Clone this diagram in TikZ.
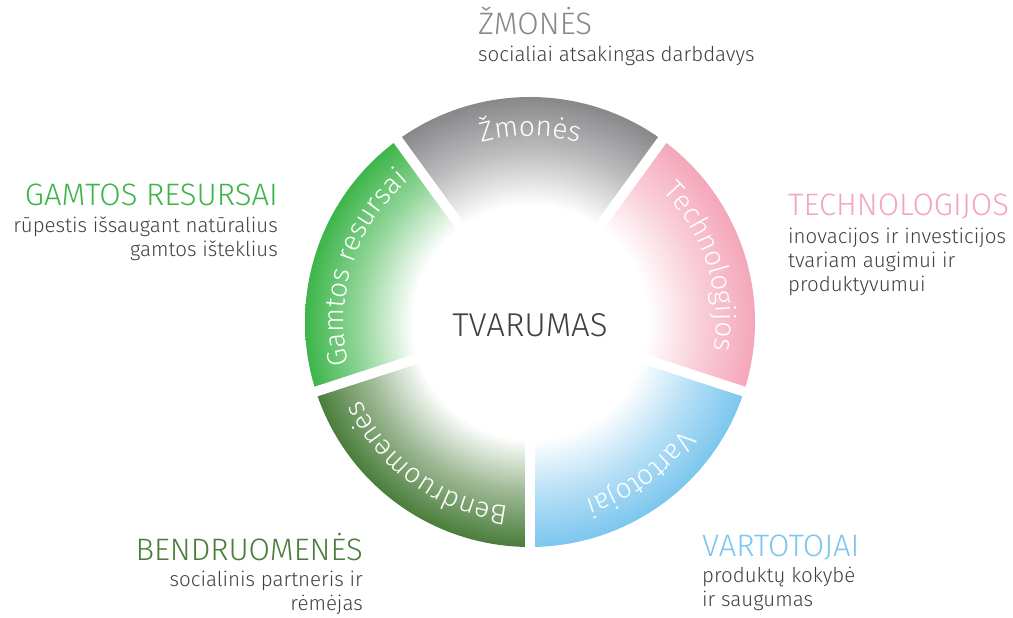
\documentclass[tikz,border=0pt]{standalone}
\usepackage{fontspec}
\setmainfont{Fira Sans Light}
\usetikzlibrary{decorations.text}
\definecolor{czm}{HTML}{88888B}
\definecolor{cte}{HTML}{F4A6BA}
\definecolor{cva}{HTML}{7CC6EE}
\definecolor{cbe}{HTML}{4A7D3B}
\definecolor{cga}{HTML}{3DB54A}
\definecolor{ink}{HTML}{404042}
\pgfdeclareradialshading{shzm}{\pgfpoint{0bp}{0bp}}{color(0bp)=(white); color(13bp)=(white); color(19bp)=(czm!55); color(25bp)=(czm); color(50bp)=(czm)}
\pgfdeclareradialshading{shte}{\pgfpoint{0bp}{0bp}}{color(0bp)=(white); color(13bp)=(white); color(19bp)=(cte!55); color(25bp)=(cte); color(50bp)=(cte)}
\pgfdeclareradialshading{shva}{\pgfpoint{0bp}{0bp}}{color(0bp)=(white); color(13bp)=(white); color(19bp)=(cva!55); color(25bp)=(cva); color(50bp)=(cva)}
\pgfdeclareradialshading{shbe}{\pgfpoint{0bp}{0bp}}{color(0bp)=(white); color(13bp)=(white); color(19bp)=(cbe!55); color(25bp)=(cbe); color(50bp)=(cbe)}
\pgfdeclareradialshading{shga}{\pgfpoint{0bp}{0bp}}{color(0bp)=(white); color(13bp)=(white); color(19bp)=(cga!55); color(25bp)=(cga); color(50bp)=(cga)}
\newcommand\arcfont{\fontsize{28}{28}\selectfont\color{white}}
\newcommand\ttlfont{\fontsize{31}{24}\selectfont}

\begin{document}
\begin{tikzpicture}[x=1pt,y=1pt,
  lbl/.style={inner sep=0pt, text=ink, font=\fontsize{20.5}{24}\selectfont}]
\useasboundingbox (0,0) rectangle (1013,618);
\begin{scope}[shift={(530,296)}]
\foreach \m/\s in {90/shzm,18/shte,-54/shva,-126/shbe,162/shga}{
  \begin{scope}
    \clip (0,0) -- (\m+36:225) arc[start angle=\m+36, end angle=\m-36, radius=225] -- cycle;
    \shade[shading=\s] (-225,-225) rectangle (225,225);
  \end{scope}
}
\foreach \a in {54,126,198,270,342}
  \draw[white, line width=10pt] (0,0) -- (\a:240);
\path[decorate, decoration={text along path, text align=center, text={|\arcfont|Žmonės}}] (126:186) arc[start angle=126, end angle=54, radius=186];
\path[decorate, decoration={text along path, text align=center, text={|\arcfont|Technologijos}}] (54:186) arc[start angle=54, end angle=-18, radius=186];
\path[decorate, decoration={text along path, text align=center, text={|\arcfont|Vartotojai}}] (-18:186) arc[start angle=-18, end angle=-90, radius=186];
\path[decorate, decoration={text along path, text align=center, text={|\arcfont|Bendruomenės}}] (-90:186) arc[start angle=-90, end angle=-162, radius=186];
\path[decorate, decoration={text along path, text align=center, text={|\arcfont|Gamtos resursai}}] (198:186) arc[start angle=198, end angle=126, radius=186];
\end{scope}
\node[font=\fontsize{33}{33}\selectfont, text=ink] (tvarumas) at (530,293) {TVARUMAS};
\node[lbl, align=left, anchor=base west] (zmones) at (478,556) {\textcolor{czm}{\ttlfont ŽMONĖS}\\[3pt]socialiai atsakingas darbdavys};
\node[lbl, align=right, anchor=base east] (gamtos) at (278,361) {\textcolor{cga}{\ttlfont GAMTOS RESURSAI}\\[3pt]rūpestis išsaugant natūralius\\gamtos išteklius};
\node[lbl, align=left, anchor=base west] (technologijos) at (788,326) {\textcolor{cte}{\ttlfont TECHNOLOGIJOS}\\[4pt]inovacijos ir investicijos\\tvariam augimui ir\\produktyvumui};
\node[lbl, align=right, anchor=base east] (bendruomenes) at (363,7) {\textcolor{cbe}{\ttlfont BENDRUOMENĖS}\\[2pt]socialinis partneris ir\\rėmėjas};
\node[lbl, align=left, anchor=base west] (vartotojai) at (702,11) {\textcolor{cva}{\ttlfont VARTOTOJAI}\\[2pt]produktų kokybė\\ir saugumas};
\end{tikzpicture}
\end{document}
